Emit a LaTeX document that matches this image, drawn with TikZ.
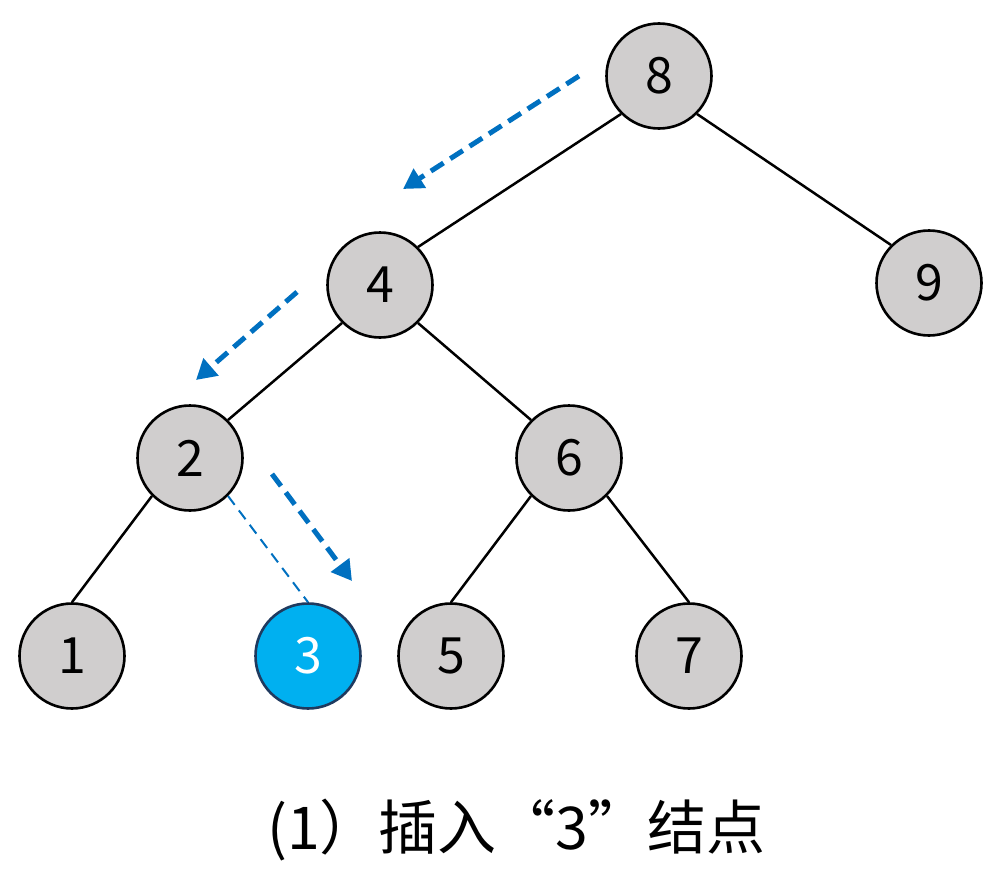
\documentclass[tikz,border=0pt]{standalone}
\usepackage{fontspec}
\setmainfont{Noto Sans CJK SC}
\usetikzlibrary{arrows.meta}
\definecolor{nodegray}{HTML}{D0CECE}
\definecolor{hiblue}{HTML}{00B0F0}
\definecolor{hiborder}{HTML}{1F3A5F}
\definecolor{arrblue}{HTML}{0070C0}
\tikzset{
  tn/.style={circle, draw=black, line width=2.6pt, fill=nodegray, minimum size=105pt, inner sep=0pt, font=\fontsize{50}{50}\selectfont},
  hn/.style={tn, fill=hiblue, draw=hiborder, text=white},
  edge/.style={line width=2.5pt, black},
  bigarrow/.style={line width=5pt, arrblue, dash pattern=on 15pt off 8pt, -{Triangle[length=20pt,width=22pt]}},
  thindash/.style={line width=2pt, arrblue, dash pattern=on 11pt off 7pt}
}
\begin{document}
\begin{tikzpicture}[x=1pt,y=-1pt]
\useasboundingbox (0,0) rectangle (1003,880);
\node[tn] (n8) at (659,76) {8};
\node[tn] (n4) at (380,285) {4};
\node[tn] (n9) at (929,283) {9};
\node[tn] (n2) at (190,458) {2};
\node[tn] (n6) at (569,458) {6};
\node[tn] (n1) at (72,656) {1};
\node[hn] (n3) at (308,656) {3};
\node[tn] (n5) at (451,656) {5};
\node[tn] (n7) at (689,656) {7};
\draw[edge] (n8.225) -- (n4.45);
\draw[edge] (n8.-45) -- (n9.135);
\draw[edge] (n4.225) -- (n2.45);
\draw[edge] (n4.-45) -- (n6.135);
\draw[edge] (n2.225) -- (n1.north);
\draw[edge] (n6.225) -- (n5.north);
\draw[edge] (n6.-45) -- (n7.north);
\draw[thindash] (n2.-45) -- (n3.north);
\coordinate (a1s) at (579,76);
\coordinate (a1e) at (403,189);
\coordinate (a2s) at (297,292);
\coordinate (a2e) at (196,380);
\coordinate (a3s) at (272,474);
\coordinate (a3e) at (352,581);
\draw[bigarrow] (a1s) -- (a1e);
\draw[bigarrow] (a2s) -- (a2e);
\draw[bigarrow] (a3s) -- (a3e);
\node[font=\fontsize{59}{59}\selectfont, anchor=west, inner sep=0pt] (cap) at (267,830) {(1）插入“3”结点};
\end{tikzpicture}
\end{document}
